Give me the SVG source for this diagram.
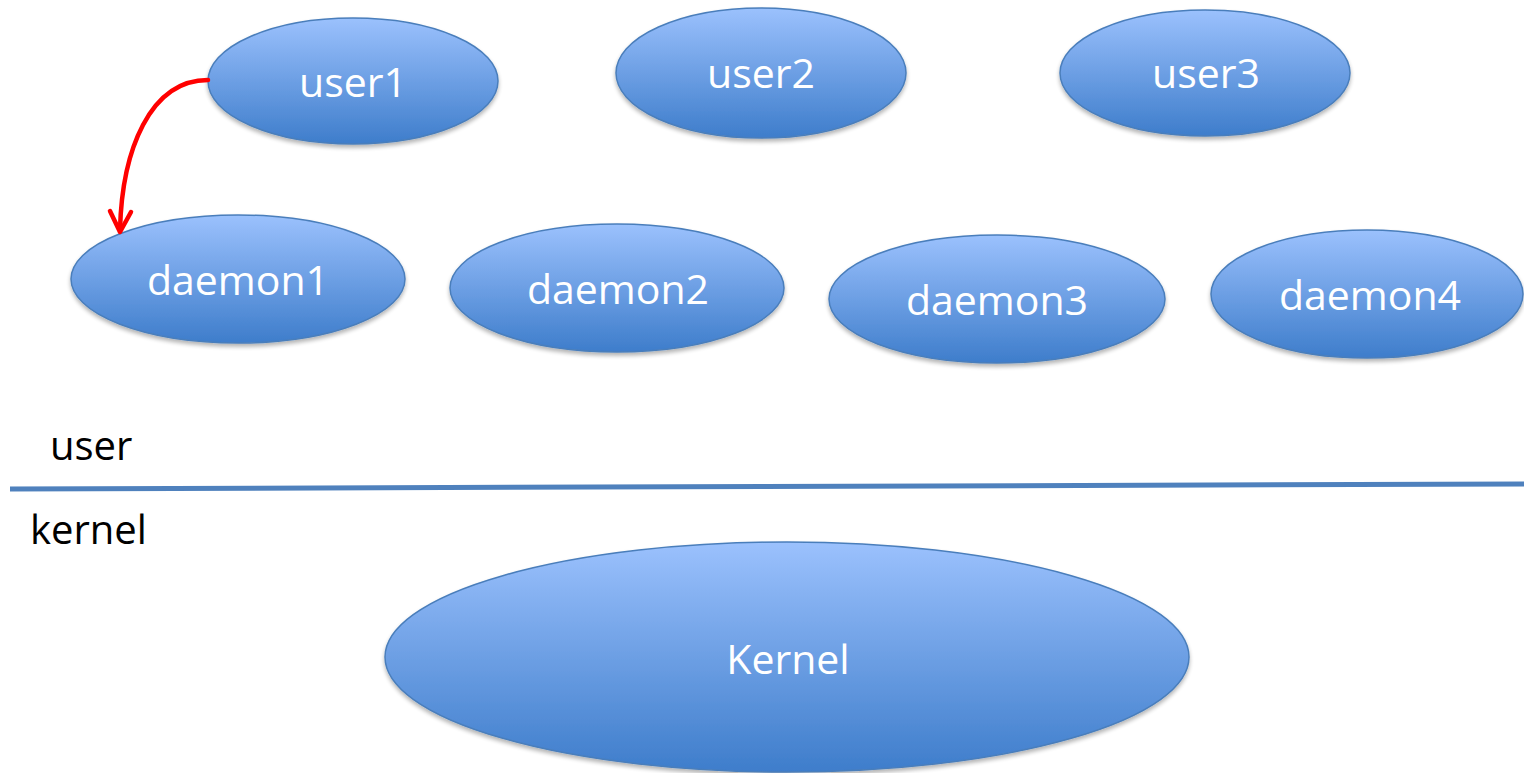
<svg xmlns="http://www.w3.org/2000/svg" width="1524" height="773" viewBox="0 0 1524 773">
<defs>
<linearGradient id="g" x1="0" y1="0" x2="0" y2="1">
<stop offset="0" stop-color="#9BC1FD"/>
<stop offset="1" stop-color="#3E7DCB"/>
</linearGradient>
<filter id="sh" x="-10%" y="-10%" width="120%" height="130%">
<feGaussianBlur in="SourceAlpha" stdDeviation="2"/>
<feOffset dx="0" dy="3" result="b"/>
<feComponentTransfer><feFuncA type="linear" slope="0.3"/></feComponentTransfer>
<feMerge><feMergeNode/><feMergeNode in="SourceGraphic"/></feMerge>
</filter>
</defs>
<style>
.n ellipse{fill:url(#g);stroke:#4A7EBB;stroke-width:1.5;filter:url(#sh)}
.n text{font-family:"Open Sans","Liberation Sans",sans-serif;font-size:41px;fill:#fff;text-anchor:middle}
.lbl{font-family:"Open Sans","Liberation Sans",sans-serif;font-size:40px;fill:#000}
</style>
<g id="user1" class="n"><ellipse cx="353" cy="81" rx="145" ry="63"/><text x="353" y="97">user1</text></g>
<g id="user2" class="n"><ellipse cx="761" cy="73" rx="145" ry="65"/><text x="761" y="88">user2</text></g>
<g id="user3" class="n"><ellipse cx="1205" cy="73" rx="145" ry="63"/><text x="1206" y="88">user3</text></g>
<g id="daemon1" class="n"><ellipse cx="238" cy="279" rx="167" ry="64"/><text x="238" y="295">daemon1</text></g>
<g id="daemon2" class="n"><ellipse cx="617" cy="288" rx="167" ry="64"/><text x="618" y="304">daemon2</text></g>
<g id="daemon3" class="n"><ellipse cx="997" cy="299" rx="168" ry="64"/><text x="997" y="315">daemon3</text></g>
<g id="daemon4" class="n"><ellipse cx="1367" cy="294" rx="156" ry="64"/><text x="1370" y="310">daemon4</text></g>
<g id="kernel" class="n"><ellipse cx="787" cy="657" rx="402" ry="115"/><text x="788" y="674">Kernel</text></g>
<g id="boundary">
<line x1="10" y1="489" x2="1524" y2="484" stroke="#4F81BD" stroke-width="5"/>
<text class="lbl" x="50" y="460">user</text>
<text class="lbl" x="30" y="544">kernel</text>
</g>
<g id="connectors" fill="none" stroke="#FF0000" stroke-width="4.5" stroke-linecap="round" stroke-linejoin="round">
<path d="M208,80 C150,80 122,150 120,230"/>
<path d="M110,211 L120,232 L131,212"/>
</g>
</svg>
